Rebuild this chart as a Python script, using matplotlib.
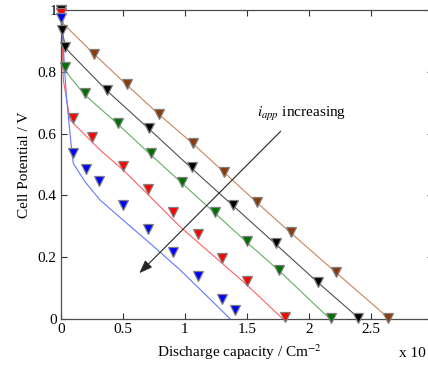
import matplotlib.pyplot as plt

plt.rcParams["font.family"] = ["Liberation Serif", "DejaVu Serif"]
plt.rcParams["mathtext.fontset"] = "stix"

# simulated curves (lines) for each applied current
line_x = {
    "brown": [0, 0.005, 0.02, 0.27, 0.53, 0.79, 1.06, 1.32, 1.58, 1.85, 2.22, 2.65],
    "black": [0, 0.005, 0.015, 0.04, 0.37, 0.71, 1.05, 1.39, 1.73, 2.07, 2.41],
    "green": [0, 0.01, 0.02, 0.06, 0.19, 0.46, 0.72, 0.98, 1.24, 1.50, 1.76, 2.17],
    "red": [0, 0.005, 0.02, 0.046, 0.073, 0.153, 0.315, 0.502, 0.691, 0.96, 1.3, 1.5, 1.79],
    "blue": [0, 0.01, 0.03, 0.046, 0.086, 0.099, 0.194, 0.315, 0.53, 0.718, 0.96, 1.15, 1.365],
}
line_y = {
    "brown": [1.0, 0.98, 0.955, 0.856, 0.758, 0.662, 0.569, 0.473, 0.377, 0.28, 0.15, 0.0],
    "black": [1.0, 0.96, 0.92, 0.875, 0.739, 0.615, 0.489, 0.366, 0.243, 0.119, 0.0],
    "green": [1.0, 0.9, 0.82, 0.79, 0.726, 0.63, 0.533, 0.438, 0.343, 0.248, 0.156, 0.0],
    "red": [1.0, 0.95, 0.77, 0.709, 0.644, 0.612, 0.547, 0.482, 0.407, 0.299, 0.18, 0.11, 0.0],
    "blue": [1.0, 0.95, 0.8, 0.709, 0.547, 0.504, 0.444, 0.385, 0.31, 0.245, 0.159, 0.085, 0.0],
}

# experimental points (triangles)
pts_x = {
    "brown": [0.0, 0.266, 0.53, 0.79, 1.062, 1.317, 1.583, 1.852, 2.218, 2.637],
    "black": [0.0, 0.005, 0.032, 0.371, 0.71, 1.054, 1.39, 1.734, 2.07, 2.398],
    "green": [0.032, 0.194, 0.462, 0.723, 0.978, 1.242, 1.498, 1.762, 2.18],
    "red": [0.0, 0.099, 0.25, 0.498, 0.698, 0.9, 1.107, 1.301, 1.5, 1.806],
    "blue": [0.0, 0.099, 0.199, 0.306, 0.498, 0.699, 0.9, 1.107, 1.302, 1.407],
}
pts_y = {
    "brown": [1.0, 0.858, 0.760, 0.664, 0.571, 0.475, 0.379, 0.282, 0.152, 0.003],
    "black": [1.0, 0.935, 0.881, 0.741, 0.617, 0.491, 0.368, 0.245, 0.121, 0.003],
    "green": [0.816, 0.730, 0.634, 0.537, 0.442, 0.347, 0.252, 0.160, 0.003],
    "red": [0.99, 0.650, 0.589, 0.496, 0.421, 0.345, 0.275, 0.197, 0.124, 0.008],
    "blue": [0.975, 0.538, 0.485, 0.447, 0.368, 0.291, 0.217, 0.139, 0.065, 0.029],
}

line_colors = {"brown": "#c8845a", "black": "#505050", "green": "#60b060",
               "red": "#ff6060", "blue": "#6078ff"}
marker_colors = {"brown": "#8b3a0a", "black": "#000000", "green": "#007000",
                 "red": "#ff0000", "blue": "#0000ff"}

fig = plt.figure(figsize=(4.28, 3.65), dpi=100)
ax = fig.add_axes([0.1425, 0.126, 0.869, 0.8466])

for key in ["brown", "black", "green", "red", "blue"]:
    ax.plot(line_x[key], line_y[key], color=line_colors[key], lw=0.8, zorder=2)
    ax.plot(pts_x[key], pts_y[key], "v", color=marker_colors[key], ms=7.5,
            mec="0.5", mew=0.9, zorder=3, clip_on=False)

ax.annotate("", xy=(0.616, 0.142), xytext=(1.788, 0.614),
            arrowprops=dict(arrowstyle="-|>,head_length=0.8,head_width=0.3",
                            color="0.15", lw=0.8))
ax.text(1.58, 0.665, r"$i_{app}$ increasing", fontsize=11, ha="left", va="center")

ax.set_xlim(0, 3)
ax.set_ylim(0, 1)
ax.set_xticks([0, 0.5, 1, 1.5, 2, 2.5, 3])
ax.set_xticklabels(["0", "0.5", "1", "1.5", "2", "2.5", ""])
ax.set_yticks([0, 0.2, 0.4, 0.6, 0.8, 1])
ax.set_yticklabels(["0", "0.2", "0.4", "0.6", "0.8", "1"])
ax.tick_params(direction="in", top=True, right=True, labelsize=11,
               length=4, width=0.8, color="0.2", pad=3)
for s in ax.spines.values():
    s.set_color("0.3")
    s.set_linewidth(0.9)

ax.set_xlabel("Discharge capacity / Cm$^{-2}$", fontsize=11)
ax.xaxis.set_label_coords(0.48, -0.075)
ax.set_ylabel("Cell Potential / V", fontsize=11)
ax.yaxis.set_label_coords(-0.08, 0.5)
fig.text(0.932, 0.022, "x 10", fontsize=11)

fig.savefig("out.png", dpi=100)
